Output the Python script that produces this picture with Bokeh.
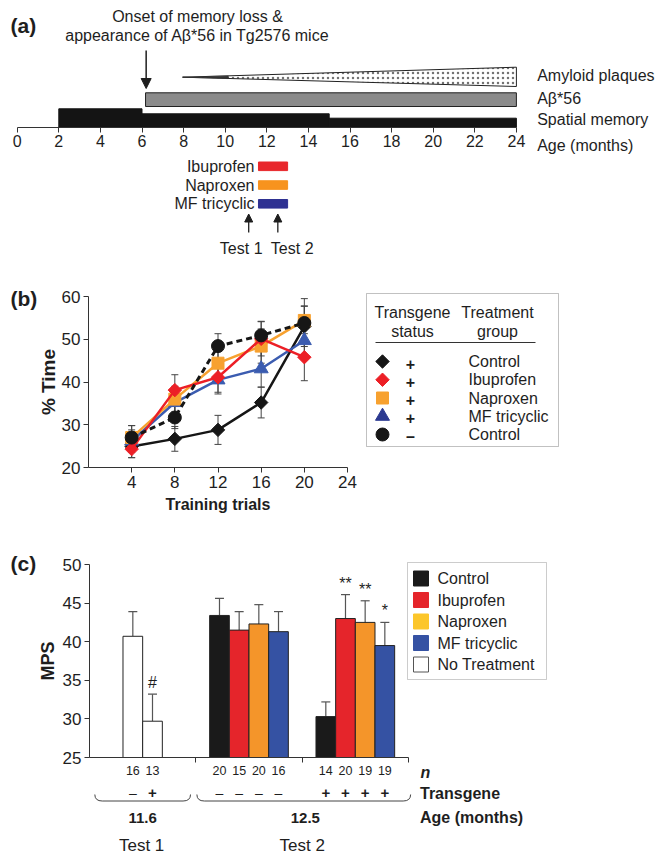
import numpy as np
from bokeh.plotting import figure
from bokeh.models import (Range1d, LinearAxis, FixedTicker, Label, Arrow, NormalHead,
                          TeeHead, Whisker, ColumnDataSource, BoxAnnotation)
from bokeh.embed import file_html
from bokeh.resources import INLINE
from bokeh.core.properties import value

FONT = "Liberation Sans"
INK = "#1e1e1e"

# ===================== DATA =====================
# (a) schematic time line (months)
age_ticks = [0, 2, 4, 6, 8, 10, 12, 14, 16, 18, 20, 22, 24]
memory_start = [2, 6, 15]
memory_end = [6, 15, 24]
memory_level = [18.4, 13.4, 9.0]
abeta_span = [6.17, 24]
plaque_span = [7.95, 24]
onset_month = 6.2
drug_names = ["Ibuprofen", "Naproxen", "MF tricyclic"]
drug_colors_a = ["#e8262b", "#f7931e", "#2e3192"]
drug_span = [11.6, 13.0]
test_months = [11.13, 12.53]
test_names = ["Test 1", "Test 2"]
row_labels_a = ["Amyloid plaques", "A\u03b2*56", "Spatial memory", "Age (months)"]

# (b) % time vs training trials
trials = [4, 8, 12, 16, 20]
trial_ticks = [4, 8, 12, 16, 20, 24]
time_ticks = [20, 30, 40, 50, 60]
ctrl_tg = [24.9, 26.7, 28.8, 35.2, 53.0]
ctrl_tg_err = [2.6, 2.9, 3.4, 3.6, 4.7]
ibu = [24.3, 38.1, 41.1, 50.1, 45.8]
ibu_err = [2.0, 3.6, 3.5, 4.0, 5.5]
nap = [27.0, 36.0, 44.4, 48.4, 54.4]
nap_err = [2.8, 3.0, 3.5, 4.0, 5.1]
mf = [26.2, 35.2, 40.5, 43.1, 49.7]
mf_err = [2.6, 3.0, 3.3, 4.3, 4.0]
ctrl_wt = [27.0, 31.7, 48.4, 50.9, 53.8]
ctrl_wt_err = [2.8, 2.6, 2.9, 3.3, 4.0]
legend_status = ["+", "+", "+", "+", "\u2013"]
legend_groups = ["Control", "Ibuprofen", "Naproxen", "MF tricyclic", "Control"]

# (c) MPS bars
mps_ticks = [25, 30, 35, 40, 45, 50]
test1_mps = [40.7, 29.7]
test1_err = [3.2, 3.5]
test1_n = ["16", "13"]
test1_tg = ["\u2013", "+"]
test1_mark = ["", "#"]
test2_wt_mps = [43.4, 41.5, 42.3, 41.3]
test2_wt_err = [2.2, 2.4, 2.5, 2.6]
test2_wt_n = ["20", "15", "20", "16"]
test2_tg_mps = [30.3, 43.0, 42.5, 39.5]
test2_tg_err = [1.9, 3.1, 2.8, 3.0]
test2_tg_n = ["14", "20", "19", "19"]
test2_tg_mark = ["", "**", "**", "*"]
groups_c = ["Control", "Ibuprofen", "Naproxen", "MF tricyclic", "No Treatment"]
bar_colors_c = ["#1a1a1a", "#e5252b", "#f4952a", "#3552a3"]
legend_colors_c = ["#1a1a1a", "#e5252b", "#fcc62a", "#3552a3", "#ffffff"]
ages_c = ["11.6", "12.5"]

# ===================== geometry (picture pixels) =====================
W, H = 663, 861
A_X0, A_PPM, A_AXIS = 16.7, 20.8, 126.7
B_X0, B_PPU, B_Y0, B_PPV = 88, 10.792, 467, 4.275
C_X0, C_PPU, C_Y0, C_PPV = 89, 106.33, 757, 7.72

def a_x(px): return (px - A_X0) / A_PPM
def a_y(py): return A_AXIS - py
def b_x(px): return (px - B_X0) / B_PPU
def b_y(py): return 20 + (B_Y0 - py) / B_PPV
def c_x(px): return (px - C_X0) / C_PPU
def c_y(py): return 25 + (C_Y0 - py) / C_PPV

p = figure(width=W, height=H, x_axis_type=None, y_axis_type=None, output_backend="svg",
           toolbar_location=None, outline_line_color=None,
           min_border_left=0, min_border_right=0, min_border_top=0, min_border_bottom=0,
           x_range=Range1d(0, W), y_range=Range1d(0, H),
           background_fill_color="white", border_fill_color="white")
p.xgrid.visible = False
p.ygrid.visible = False
p.extra_x_ranges = {"ax": Range1d(a_x(0), a_x(W)), "bx": Range1d(b_x(0), b_x(W)),
                    "cx": Range1d(c_x(0), c_x(W))}
p.extra_y_ranges = {"ay": Range1d(a_y(H), a_y(0)), "by": Range1d(b_y(H), b_y(0)),
                    "cy": Range1d(c_y(H), c_y(0))}
A = dict(x_range_name="ax", y_range_name="ay")
B = dict(x_range_name="bx", y_range_name="by")
C = dict(x_range_name="cx", y_range_name="cy")

def lab(rn, x, y, text, size="16px", align="left", baseline="middle", style="normal",
        color=INK):
    p.add_layout(Label(x=x, y=y, text=text, text_font=FONT, text_font_size=size,
                       text_align=align, text_baseline=baseline, text_font_style=style,
                       text_color=color, **rn))

def style_axis(ax, size):
    ax.major_label_text_font = FONT
    ax.major_label_text_font_size = size
    ax.major_label_text_color = INK
    ax.axis_line_color = "#333"
    ax.major_tick_line_color = "#333"
    ax.major_tick_out = 5
    ax.major_tick_in = 0
    ax.minor_tick_out = 0
    ax.minor_tick_in = 0
    ax.axis_label_text_font = FONT
    ax.axis_label_text_color = INK

# ===================== (a) =====================
axa = LinearAxis(fixed_location=0, bounds=(0, 24), ticker=FixedTicker(ticks=age_ticks), **A)
style_axis(axa, "16px")
axa.major_label_standoff = 3
p.add_layout(axa, "below")

p.quad(left=memory_start, right=memory_end, bottom=0, top=memory_level,
       fill_color="#141414", line_color="#141414", **A)
p.quad(left=[abeta_span[0]], right=[abeta_span[1]], bottom=[a_y(106)], top=[a_y(92.3)],
       fill_color="#8b8b8b", line_color="#222", line_width=1, **A)
p.patch([plaque_span[0], plaque_span[1], plaque_span[1]],
        [a_y(76.7), a_y(66.7), a_y(86)],
        fill_color="white", hatch_pattern="dot", hatch_color="#727272",
        hatch_scale=5, hatch_weight=3, line_color="#222", line_width=1, **A)
p.patch([plaque_span[0], plaque_span[0] + 2.2, plaque_span[0] + 2.2],
        [a_y(76.7), a_y(75.4), a_y(78.1)], fill_color="#333", line_color="#333",
        line_width=0.5, **A)

p.add_layout(Arrow(end=NormalHead(size=10, fill_color=INK, line_color=INK),
                   x_start=onset_month, y_start=a_y(50), x_end=onset_month, y_end=a_y(88),
                   line_width=1.5, line_color=INK, **A))
lab(A, a_x(197), a_y(16), "Onset of memory loss &", align="center")
lab(A, a_x(197), a_y(35), "appearance of A\u03b2*56 in Tg2576 mice", align="center")
lab(A, a_x(10), a_y(25), "(a)", size="21px", style="bold")
for txt, py in zip(row_labels_a, [75, 98, 119, 145]):
    lab(A, 25.0, a_y(py), txt)

for i, (name, col) in enumerate(zip(drug_names, drug_colors_a)):
    yc = a_y(165.8 + 18.75 * i)
    p.quad(left=[drug_span[0]], right=[drug_span[1]], bottom=[yc - 4.3], top=[yc + 4.3],
           fill_color=col, line_color=col, **A)
    lab(A, a_x(254), yc, name, align="right")
for m, name, px in zip(test_months, test_names, [240.7, 291.7]):
    p.add_layout(Arrow(end=NormalHead(size=8, fill_color=INK, line_color=INK),
                       x_start=m, y_start=a_y(232), x_end=m, y_end=a_y(213.5),
                       line_width=1.3, line_color=INK, **A))
    lab(A, a_x(px), a_y(248.3), name, align="center")

# ===================== (b) =====================
axbx = LinearAxis(fixed_location=20, bounds=(0, 24), ticker=FixedTicker(ticks=trial_ticks),
                  axis_label="Training trials", **B)
style_axis(axbx, "17px")
axbx.major_label_standoff = 3
axbx.axis_label_text_font_size = "16px"
axbx.axis_label_text_font_style = "bold"
axbx.axis_label_standoff = 5
p.add_layout(axbx, "below")
axby = LinearAxis(fixed_location=0, bounds=(20, 60), ticker=FixedTicker(ticks=time_ticks),
                  axis_label="% Time", **B)
style_axis(axby, "17px")
axby.major_label_standoff = 3
axby.axis_label_text_font_size = "19px"
axby.axis_label_text_font_style = "bold"
axby.axis_label_standoff = 0
p.add_layout(axby, "left")

series_b = [
    (ctrl_tg, ctrl_tg_err, "#161616", "square", 9.5, np.pi / 4, "solid", 2.5),
    (mf, mf_err, "#3b5cb0", "triangle", 14, 0, "solid", 2.5),
    (nap, nap_err, "#f7a12f", "square", 12, 0, "solid", 2.5),
    (ibu, ibu_err, "#ec1f26", "square", 9.5, np.pi / 4, "solid", 2.5),
    (ctrl_wt, ctrl_wt_err, "#161616", "circle", 13, 0, "6 4", 3),
]
for vals, errs, col, mk, sz, ang, dash, lw in series_b:
    src = ColumnDataSource(dict(x=trials, y=vals,
                                lo=[v - e for v, e in zip(vals, errs)],
                                hi=[v + e for v, e in zip(vals, errs)]))
    p.add_layout(Whisker(source=src, base="x", lower="lo", upper="hi", dimension="height",
                         line_color="#444", line_width=1,
                         lower_head=TeeHead(size=7, line_color="#444", line_width=1),
                         upper_head=TeeHead(size=7, line_color="#444", line_width=1), **B))
    p.line("x", "y", source=src, line_color=col, line_width=lw, line_dash=dash, **B)
    p.scatter("x", "y", source=src, marker=mk, size=sz, angle=ang,
              fill_color=col, line_color=col, **B)

p.add_layout(BoxAnnotation(left=b_x(366), right=b_x(558), top=b_y(293), bottom=b_y(446),
                           fill_alpha=0, line_color="#333", line_width=1, **B))
lab(B, b_x(412), b_y(312), "Transgene", align="center")
lab(B, b_x(412), b_y(331), "status", align="center")
lab(B, b_x(497), b_y(312), "Treatment", align="center")
lab(B, b_x(497), b_y(331), "group", align="center")
p.segment(x0=[b_x(375)], y0=[b_y(342)], x1=[b_x(535)], y1=[b_y(342)],
          line_color="#333", line_width=1, **B)
leg_marks = [("square", 9.5, np.pi / 4, "#161616"), ("square", 9.5, np.pi / 4, "#ec1f26"),
             ("square", 12, 0, "#f7a12f"), ("triangle", 14, 0, "#2b3990"),
             ("circle", 13, 0, "#161616")]
for i, ((mk, sz, ang, col), st, gname) in enumerate(zip(leg_marks, legend_status, legend_groups)):
    py = 361 + 18.25 * i
    p.scatter([b_x(382)], [b_y(py)], marker=mk, size=sz, angle=ang,
              fill_color=col, line_color=col, **B)
    lab(B, b_x(410), b_y(py + 2), st, align="center", style="bold")
    lab(B, b_x(468), b_y(py), gname)
lab(B, b_x(10), b_y(298), "(b)", size="21px", style="bold")

# ===================== (c) =====================
axcx = LinearAxis(fixed_location=25, bounds=(0, 3), ticker=FixedTicker(ticks=[1, 2, 3]),
                  major_label_overrides={1: "", 2: "", 3: ""}, **C)
style_axis(axcx, "12px")
p.add_layout(axcx, "below")
axcy = LinearAxis(fixed_location=0, bounds=(25, 50), ticker=FixedTicker(ticks=mps_ticks),
                  axis_label="MPS", **C)
style_axis(axcy, "17px")
axcy.major_label_standoff = 3
axcy.axis_label_text_font_size = "18px"
axcy.axis_label_text_font_style = "bold"
axcy.axis_label_standoff = 2
p.add_layout(axcy, "left")

BW = 0.185
def centers(section, n):
    return [section + 0.5 + (i - (n - 1) / 2) * BW for i in range(n)]

groups = [
    (centers(0, 2), test1_mps, test1_err, ["#ffffff", "#ffffff"], test1_n, test1_tg, test1_mark),
    (centers(1, 4), test2_wt_mps, test2_wt_err, bar_colors_c, test2_wt_n,
     ["\u2013"] * 4, [""] * 4),
    (centers(2, 4), test2_tg_mps, test2_tg_err, bar_colors_c, test2_tg_n,
     ["+"] * 4, test2_tg_mark),
]
for xs, vals, errs, cols, ns, tgs, marks in groups:
    src = ColumnDataSource(dict(x=xs, top=vals, hi=[v + e for v, e in zip(vals, errs)],
                                col=cols, mark=marks))
    p.vbar(x="x", top="top", bottom=25, width=BW, source=src, fill_color="col",
           line_color="#222", line_width=1, **C)
    p.add_layout(Whisker(source=src, base="x", lower="top", upper="hi", dimension="height",
                         line_color="#555", line_width=1.2, lower_head=None,
                         upper_head=TeeHead(size=9, line_color="#555", line_width=1.2), **C))
    p.text(x="x", y="hi", text="mark", source=src, text_align="center",
           text_baseline="bottom", y_offset=-3, text_font=value(FONT),
           text_font_size="16px", text_color=INK, **C)
    for x, n, tg in zip(xs, ns, tgs):
        lab(C, x, c_y(770), n, size="12.5px", align="center")
        if tg == "+":
            lab(C, x, c_y(792.5), tg, size="15px", align="center", style="bold")
        else:
            lab(C, x, c_y(792.5), tg, size="14px", align="center")

brace_x0 = [0.05, 1.01]
brace_x1 = [0.95, 3.02]
yt, yb, dx = c_y(794), c_y(800.5), 0.07
for x0, x1 in zip(brace_x0, brace_x1):
    p.quadratic(x0=[x0, x1], y0=[yt, yt], x1=[x0 + dx, x1 - dx], y1=[yb, yb],
                cx=[x0, x1], cy=[yb, yb], line_color="#444", line_width=1, **C)
    p.segment(x0=[x0 + dx], y0=[yb], x1=[x1 - dx], y1=[yb], line_color="#444",
              line_width=1, **C)

lab(C, 0.5, c_y(817), ages_c[0], size="15px", align="center", style="bold")
lab(C, 2.03, c_y(817), ages_c[1], size="15px", align="center", style="bold")
lab(C, 0.49, c_y(845), "Test 1", size="17px", align="center")
lab(C, 2.0, c_y(845), "Test 2", size="17px", align="center")
lab(C, c_x(420), c_y(772), "n", size="16px", style="bold italic")
lab(C, c_x(419.5), c_y(793), "Transgene", size="16px", style="bold")
lab(C, c_x(419.5), c_y(817), "Age (months)", size="16px", style="bold")
lab(C, c_x(10), c_y(563), "(c)", size="21px", style="bold")

p.add_layout(BoxAnnotation(left=c_x(407), right=c_x(546), top=c_y(562), bottom=c_y(679),
                           fill_alpha=0, line_color="#555", line_width=1, **C))
for i, (g, col) in enumerate(zip(groups_c, legend_colors_c)):
    py = 578 + 21.5 * i
    p.scatter([c_x(420.5)], [c_y(py)], marker="square", size=15, fill_color=col,
              line_color="#555" if col == "#ffffff" else col, line_width=1, **C)
    lab(C, c_x(437), c_y(py), g)

open("out.html", "w").write(file_html(p, INLINE))
